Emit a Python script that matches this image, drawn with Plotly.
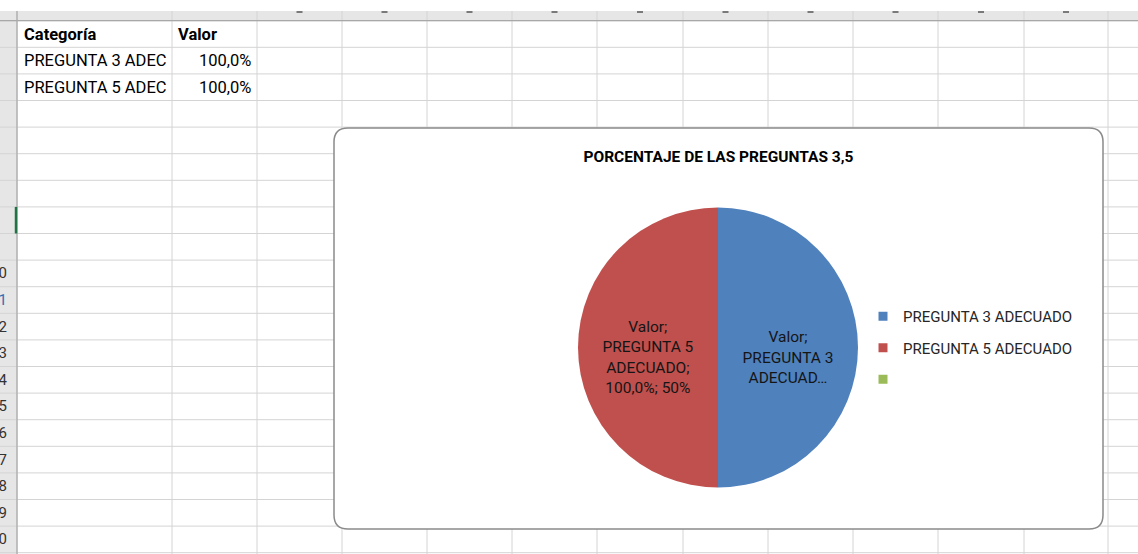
import plotly.graph_objects as go

W, H = 1138, 554

# ---------------- data ----------------
series_name = "Valor"
categories = ["PREGUNTA 3 ADECUADO", "PREGUNTA 5 ADECUADO", ""]
values = [1.0, 1.0, None]          # 100,0% each; third row of the range is empty
slice_colors = ["#4F81BD", "#C0504D", "#9BBB59"]
chart_title = "PORCENTAJE DE LAS PREGUNTAS 3,5"
table_header = ["Categoría", "Valor"]
row_numbers = ["10", "11", "12", "13", "14", "15", "16", "17", "18", "19", "20"]

# label truncation as Excel shows it (None = full label)
label_truncate = [25, None, None]
cell_visible_chars = 15


def fmt_pct(v, dec):
    s = f"{v * 100:.{dec}f}%"
    return s.replace(".", ",")


# ---------------- geometry (pixels) ----------------
col_lines = [17, 172, 257, 342, 427, 512, 597, 683, 768, 853, 938, 1024, 1108]
row0, row_h = 20.7, 26.6
row_lines = [row0 + i * row_h for i in range(21)]

fig = go.Figure()

# ---------------- pie ----------------
pie_lab, pie_val, pie_col, pie_txt = [], [], [], []
total = sum(v for v in values if v is not None)
for cat, v, c, tr in zip(categories, values, slice_colors, label_truncate):
    if v is None:
        continue
    first, last = cat.rsplit(" ", 1)
    full = f"{series_name}; {cat}; {fmt_pct(v, 1)}; {fmt_pct(v / total, 0)}"
    if tr is not None:
        shown = full[:tr] + "…"
        lines = ["\u00a0", f"{series_name};", first, shown[len(f'{series_name}; {first} '):]]
    else:
        lines = ["\u00a0", f"{series_name};", first, last + ";", f"{fmt_pct(v, 1)}; {fmt_pct(v / total, 0)}"]
    pie_lab.append(cat)
    pie_val.append(v)
    pie_col.append(c)
    pie_txt.append("<br>".join(lines))

cx, cy, r = 718, 347.5, 140
fig.add_trace(go.Pie(
    labels=pie_lab, values=pie_val, text=pie_txt,
    texttemplate="%{text}", textposition="inside",
    insidetextorientation="horizontal",
    insidetextfont=dict(family="Roboto", size=15.5, color="#151515"),
    marker=dict(colors=pie_col, line=dict(width=0)),
    sort=False, direction="clockwise", rotation=0,
    showlegend=False, hoverinfo="skip",
    domain=dict(x=[(cx - r) / W, (cx + r) / W], y=[1 - (cy + r) / H, 1 - (cy - r) / H]),
))

# ---------------- legend entries ----------------
for i, (cat, c) in enumerate(zip(categories, slice_colors)):
    fig.add_trace(go.Scatter(
        x=[None], y=[None], mode="markers",
        marker=dict(symbol="square", size=9, color=c),
        name=cat if cat else " ", legendgroup=f"g{i}",
        showlegend=True, hoverinfo="skip",
    ))

# ---------------- spreadsheet background ----------------
shapes = []
grid = "#d4d4d4"
shapes.append(dict(type="rect", x0=0, x1=W, y0=11, y1=row0, fillcolor="#e6e6e6", line=dict(width=0), layer="below"))
shapes.append(dict(type="rect", x0=0, x1=17, y0=11, y1=H, fillcolor="#e6e6e6", line=dict(width=0), layer="below"))
for y in row_lines:
    shapes.append(dict(type="line", x0=0, x1=W, y0=y, y1=y, line=dict(color=grid, width=1), layer="below"))
for x in col_lines:
    shapes.append(dict(type="line", x0=x, x1=x, y0=11, y1=H, line=dict(color=grid, width=1), layer="below"))
shapes.append(dict(type="line", x0=0, x1=W, y0=row0, y1=row0, line=dict(color="#a8a8a8", width=1.2), layer="below"))
shapes.append(dict(type="line", x0=17, x1=17, y0=11, y1=H, line=dict(color="#a8a8a8", width=1.2), layer="below"))
shapes.append(dict(type="line", x0=16, x1=16, y0=row_lines[7], y1=row_lines[8], line=dict(color="#217346", width=2.5), layer="below"))
for a, b in zip(col_lines[2:], col_lines[3:]):
    m = (a + b) / 2
    shapes.append(dict(type="line", x0=m - 3, x1=m + 3, y0=12, y1=12, line=dict(color="#555555", width=1.5), layer="below"))

x0, x1, y0, y1, rr = 334, 1103, 128, 529, 14
path = (f"M {x0 + rr},{y0} L {x1 - rr},{y0} Q {x1},{y0} {x1},{y0 + rr} "
        f"L {x1},{y1 - rr} Q {x1},{y1} {x1 - rr},{y1} L {x0 + rr},{y1} "
        f"Q {x0},{y1} {x0},{y1 - rr} L {x0},{y0 + rr} Q {x0},{y0} {x0 + rr},{y0} Z")
shapes.append(dict(type="path", path=path, fillcolor="white", line=dict(color="#8a8a8a", width=1.5), layer="below"))
for s in shapes:
    s.setdefault("xref", "x")
    s.setdefault("yref", "y")

# ---------------- cell texts ----------------
ann = []
cell_font = dict(family="Roboto", size=16.5, color="#000000")
ann.append(dict(x=22, y=row0 + row_h * 0.5, text=f"<b>{table_header[0]}</b>", xanchor="left", yanchor="middle", font=cell_font))
ann.append(dict(x=176, y=row0 + row_h * 0.5, text=f"<b>{table_header[1]}</b>", xanchor="left", yanchor="middle", font=cell_font))
k = 1
for cat, v in zip(categories, values):
    if v is None:
        continue
    yy = row0 + row_h * (k + 0.5)
    ann.append(dict(x=22, y=yy, text=cat[:cell_visible_chars], xanchor="left", yanchor="middle", font=cell_font))
    ann.append(dict(x=253, y=yy, text=fmt_pct(v, 1), xanchor="right", yanchor="middle", font=cell_font))
    k += 1
for i, rn in enumerate(row_numbers):
    yy = row0 + row_h * (9 + i + 0.5)
    ann.append(dict(x=9, y=yy, text=rn, xanchor="right", yanchor="middle",
                    font=dict(family="Roboto", size=15, color="#2f6fb5" if rn == "11" else "#333333")))
for a_ in ann:
    a_.update(xref="x", yref="y", showarrow=False)

fig.update_layout(
    width=W, height=H,
    margin=dict(l=0, r=0, t=0, b=0),
    paper_bgcolor="white", plot_bgcolor="white",
    xaxis=dict(range=[0, W], visible=False, fixedrange=True, domain=[0, 1]),
    yaxis=dict(range=[H, 0], visible=False, fixedrange=True, domain=[0, 1]),
    shapes=shapes, annotations=ann,
    title=dict(text=chart_title, x=718.5 / W, xref="paper", xanchor="center",
               y=1 - 156.5 / H, yref="paper", yanchor="middle",
               font=dict(family="Roboto", size=15.5, color="#000000", weight="bold")),
    legend=dict(x=863 / W, xanchor="left", y=1 - 300 / H, yanchor="top",
                font=dict(family="Roboto", size=15, color="#262626"),
                bgcolor="rgba(0,0,0,0)", tracegroupgap=9, itemwidth=30,
                traceorder="grouped"),
    showlegend=True,
)

fig.write_html("out.html", config={"displayModeBar": False},
               post_script="document.body.style.margin='0px';document.body.style.overflow='hidden';")
